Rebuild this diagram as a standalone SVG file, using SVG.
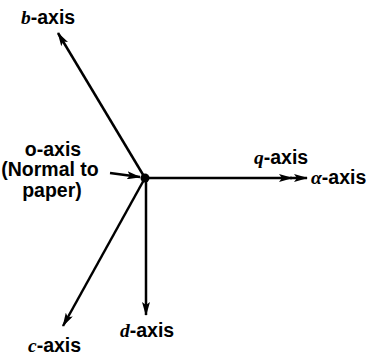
<svg xmlns="http://www.w3.org/2000/svg" width="374" height="356" viewBox="0 0 374 356">
<defs>
<marker id="ah" viewBox="0 0 14 8" refX="13" refY="4" markerWidth="14" markerHeight="8" markerUnits="userSpaceOnUse" orient="auto">
<path d="M0,0 L14,4 L0,8 L3,4 Z" fill="#000"/>
</marker>
</defs>
<style>
.t{font-family:"Liberation Sans",Arial,sans-serif;font-weight:bold;font-size:19.5px;fill:#000}
.i{font-style:italic;font-family:"Liberation Serif",serif}
.l{stroke:#000;stroke-width:2.5;fill:none}
</style>
<rect width="374" height="356" fill="#fff"/>
<g id="connectors">
<line class="l" x1="145" y1="178" x2="58" y2="33" marker-end="url(#ah)"/>
<line class="l" x1="110" y1="173" x2="140" y2="177" marker-end="url(#ah)"/>
<line class="l" x1="145" y1="178" x2="292" y2="178" marker-end="url(#ah)"/>
<line class="l" x1="290" y1="178" x2="307" y2="178" marker-end="url(#ah)"/>
<line class="l" x1="145" y1="178" x2="63" y2="326" marker-end="url(#ah)"/>
<line class="l" x1="146" y1="178" x2="146" y2="315" marker-end="url(#ah)"/>
</g>
<g id="origin"><circle cx="145" cy="178" r="4.5" fill="#000"/></g>
<g id="b-axis"><text class="t" x="21" y="24"><tspan class="i">b</tspan>-axis</text></g>
<g id="o-axis"><text class="t" x="53" y="156" text-anchor="middle">o-axis</text><text class="t" x="50" y="176" text-anchor="middle">(Normal to</text><text class="t" x="52" y="197" text-anchor="middle">paper)</text></g>
<g id="q-axis"><text class="t" x="254" y="164"><tspan class="i">q</tspan>-axis</text></g>
<g id="a-axis"><text class="t" x="311" y="184"><tspan class="i">α</tspan>-axis</text></g>
<g id="c-axis"><text class="t" x="28" y="352"><tspan class="i">c</tspan>-axis</text></g>
<g id="d-axis"><text class="t" x="120" y="337"><tspan class="i">d</tspan>-axis</text></g>
</svg>
